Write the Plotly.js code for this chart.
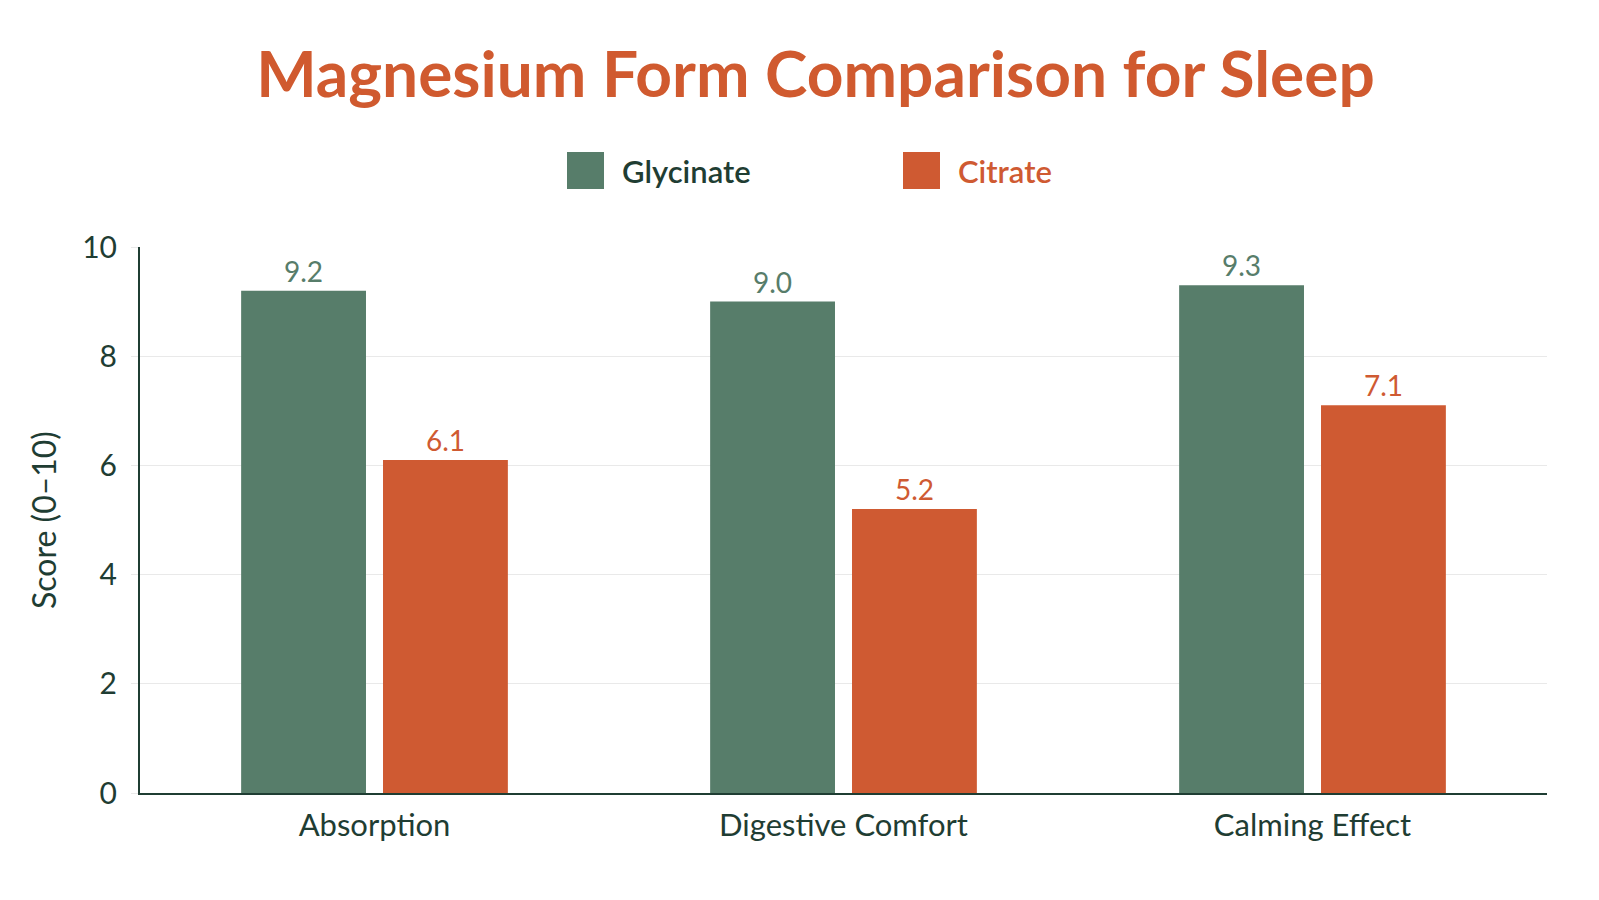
<!DOCTYPE html>
<html>
<head>
<meta charset="utf-8">
<script src="https://cdn.plot.ly/plotly-3.0.1.min.js"></script>
<style>
  html, body { margin: 0; padding: 0; background: #ffffff; }
  #chart { width: 1599px; height: 900px; }
</style>
</head>
<body>
<div id="chart"></div>
<script>
(function () {
  'use strict';

  var categories = ['Absorption', 'Digestive Comfort', 'Calming Effect'];
  var seriesNames = ['Glycinate', 'Citrate'];
  var glycinate = [9.2, 9.0, 9.3];
  var citrate = [6.1, 5.2, 7.1];
  var yTicks = [0, 2, 4, 6, 8, 10];

  var COLORS = {
    green: '#577d6a',
    orange: '#cf5a32',
    title: '#d05a2f',
    ink: '#1f3d33',
    grid: '#e9e9e9',
  };
  var FONT = 'Lato, "Noto Sans", "Open Sans", sans-serif';

  function barTrace(name, values, color) {
    return {
      type: 'bar',
      name: name,
      x: categories,
      y: values,
      marker: { color: color },
      text: values.map(function (v) { return v.toFixed(1); }),
      textposition: 'outside',
      cliponaxis: false,
      textfont: { family: FONT, size: 28, color: color },
      hoverinfo: 'skip',
    };
  }

  var traces = [
    barTrace(seriesNames[0], glycinate, COLORS.green),
    barTrace(seriesNames[1], citrate, COLORS.orange),
  ];

  // Big square legend, drawn in paper space (plot area: x 140..1547, y 247..793)
  var legendColors = [COLORS.green, COLORS.orange];
  var legendTextColors = [COLORS.ink, COLORS.orange];
  var legendX = [567, 903];
  var shapes = [];
  var annotations = [];
  seriesNames.forEach(function (n, i) {
    shapes.push({
      type: 'rect', xref: 'paper', yref: 'paper',
      x0: (legendX[i] - 140) / 1407, x1: (legendX[i] + 37 - 140) / 1407,
      y0: (793 - 189) / 546, y1: (793 - 152) / 546,
      fillcolor: legendColors[i], line: { width: 0 },
    });
    annotations.push({
      xref: 'paper', yref: 'paper',
      x: (legendX[i] + 53 - 140) / 1407, y: (793 - 171) / 546,
      xanchor: 'left', yanchor: 'middle',
      text: n, showarrow: false,
      font: { family: FONT, size: 31, color: legendTextColors[i], weight: 600 },
    });
  });

  var layout = {
    width: 1599,
    height: 900,
    paper_bgcolor: '#ffffff',
    plot_bgcolor: '#ffffff',
    font: { family: FONT, color: COLORS.ink, size: 26 },
    margin: { t: 247, r: 52, b: 107, l: 140 },
    showlegend: false,
    title: {
      text: 'Magnesium Form Comparison for Sleep',
      font: { family: FONT, size: 64, color: COLORS.title, weight: 700 },
      x: 0.51, xanchor: 'center',
      y: 0.917, yanchor: 'middle',
    },
    barmode: 'group',
    bargap: 0.395,
    bargroupgap: 0.12,
    xaxis: {
      showline: true, linecolor: COLORS.ink, linewidth: 2,
      showgrid: false, ticks: '',
      tickfont: { family: FONT, size: 31, color: COLORS.ink },
      ticklabelstandoff: 4,
    },
    yaxis: {
      title: { text: 'Score (0–10)', font: { family: FONT, size: 32, color: COLORS.ink }, standoff: 16 },
      range: [0, 10],
      tickvals: yTicks,
      showline: true, linecolor: COLORS.ink, linewidth: 2,
      gridcolor: COLORS.grid, gridwidth: 1,
      zeroline: false,
      ticks: 'outside', ticklen: 7, tickcolor: COLORS.grid,
      ticklabelstandoff: 8,
      tickfont: { family: FONT, size: 30, color: COLORS.ink },
    },
    shapes: shapes,
    annotations: annotations,
  };

  Plotly.newPlot('chart', traces, layout, { displayModeBar: false, staticPlot: true });
})();
</script>
</body>
</html>
